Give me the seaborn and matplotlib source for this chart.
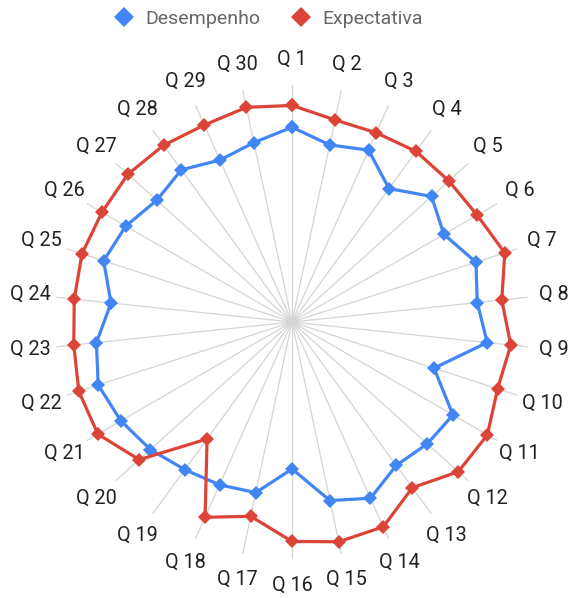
import numpy as np
import pandas as pd
import matplotlib
matplotlib.use("Agg")
import matplotlib.pyplot as plt
from matplotlib.lines import Line2D
import seaborn as sns

categories = [f"Q {i}" for i in range(1, 31)]
desempenho = [4.11, 3.82, 3.97, 3.48, 3.96, 3.70, 4.08, 3.93, 4.14, 3.15,
              3.92, 3.84, 3.74, 4.07, 3.85, 3.10, 3.68, 3.76, 3.85, 4.02,
              4.17, 4.30, 4.15, 3.84, 4.18, 4.05, 3.84, 3.97, 3.74, 3.87]
expectativa = [4.57, 4.36, 4.37, 4.45, 4.45, 4.51, 4.72, 4.45, 4.64, 4.56,
               4.76, 4.72, 4.32, 4.73, 4.74, 4.63, 4.19, 4.51, 3.05, 4.34,
               4.73, 4.73, 4.63, 4.62, 4.66, 4.63, 4.66, 4.61, 4.55, 4.63]
series_names = ["Desempenho", "Expectativa"]
colors = ["#4285F4", "#DB4437"]

sns.set_style("white")
plt.rcParams["font.family"] = ["Roboto", "DejaVu Sans"]

n = len(categories)
angles = np.arange(n) * 2 * np.pi / n

fig = plt.figure(figsize=(5.72, 5.98), dpi=100)
ax = fig.add_axes([0.0962, 0.0652, 0.8287, 0.7926], projection="polar")
ax.set_theta_zero_location("N")
ax.set_theta_direction(-1)

rows = []
for name, vals in zip(series_names, [desempenho, expectativa]):
    th = list(angles) + [angles[0]]
    rr = list(vals) + [vals[0]]
    for i, (t, r) in enumerate(zip(th, rr)):
        rows.append({"serie": name, "theta": t, "r": r, "order": i})
df = pd.DataFrame(rows)

for name, col in zip(series_names, colors):
    sub = df[df["serie"] == name]
    sns.lineplot(data=sub, x="theta", y="r", sort=False, ax=ax, color=col,
                 lw=2.3, marker="D", markersize=7, markeredgewidth=0,
                 markerfacecolor=col, estimator=None)

ax.set_ylim(0, 5)
ax.set_yticks([])
ax.set_xticks(angles)
ax.set_xticklabels([])
ax.xaxis.grid(True, color="#d4d4d4", lw=0.9)
ax.spines["polar"].set_visible(False)
ax.set_xlabel("")
ax.set_ylabel("")
ax.set_facecolor("none")

for t, lab in zip(angles, categories):
    ax.text(t, 5.55, lab, ha="center", va="center", fontsize=14.3,
            color="#222222", clip_on=False)

handles = [Line2D([], [], ls="", marker="D", color=c, markersize=10,
                  markeredgewidth=0) for c in colors]
fig.legend(handles, series_names, loc="center", ncol=2,
           bbox_to_anchor=(0.47, 0.968), frameon=False, fontsize=14,
           labelcolor="#666666", handletextpad=0.6, columnspacing=1.6,
           handlelength=1.0)

fig.savefig("out.png", dpi=100, facecolor="white")
